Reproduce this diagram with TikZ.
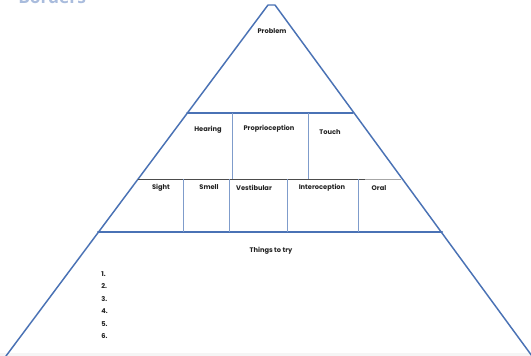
\documentclass[tikz,border=0pt]{standalone}
\usepackage{fontspec}
\setmainfont{Poppins}
\newfontfamily\titlefont{Open Sans}
\definecolor{edgeblue}{HTML}{4A72B5}
\definecolor{cellblue}{HTML}{7F9CCB}
\definecolor{titleblue}{HTML}{A9BCDD}
\definecolor{txt}{HTML}{222222}
\tikzset{
  edge/.style={draw=edgeblue, line width=1.1pt, line cap=round, line join=round},
  cell/.style={draw=cellblue, line width=0.7pt},
  midline/.style={draw=black!70, line width=0.7pt},
  lbl/.style={font=\fontsize{5}{6}\selectfont\bfseries, text=txt, inner sep=0pt},
  num/.style={font=\fontsize{5}{6}\selectfont\bfseries, text=txt, inner sep=0pt, anchor=west}
}
\begin{document}
\begin{tikzpicture}[x=0.75pt,y=-0.75pt]
\useasboundingbox (0,0) rectangle (531,356);
\clip (0,0) rectangle (531,356);
\fill[white] (0,0) rectangle (531,356);
\fill[black!4] (0,353) rectangle (531,356);
% cut-off title (clipped at the top edge, as in the reference)
\node[font=\titlefont\fontsize{13}{14}\selectfont\bfseries, text=titleblue, anchor=base west, inner sep=0pt] (title) at (18,4) {Borders};
% triangle
\coordinate (apexL) at (268,5);
\coordinate (apexR) at (275,5);
\coordinate (baseL) at (6,356);
\coordinate (baseR) at (532,356);
\draw[edge] (baseL) -- (apexL) -- (apexR) -- (baseR);
% horizontal bands
\coordinate (h1L) at (187,113);
\coordinate (h1R) at (353,113);
\coordinate (h2L) at (138,179);
\coordinate (h2M) at (365,179);
\coordinate (h2R) at (401,179);
\coordinate (h3L) at (98,232);
\coordinate (h3R) at (442,232);
\draw[edge] (h1L) -- (h1R);
\draw[midline] (h2L) -- (h2M);
\draw[draw=black!35, line width=0.7pt] (h2M) -- (h2R);
\draw[edge, line width=1.5pt] (h3L) -- (h3R);
% row 1 dividers
\coordinate (v1t) at (232,113); \coordinate (v1b) at (232,179);
\coordinate (v2t) at (308,113); \coordinate (v2b) at (308,179);
\draw[cell] (v1t) -- (v1b);
\draw[cell] (v2t) -- (v2b);
% row 2 dividers
\coordinate (w1t) at (183,179); \coordinate (w1b) at (183,232);
\coordinate (w2t) at (229,179); \coordinate (w2b) at (229,232);
\coordinate (w3t) at (287,179); \coordinate (w3b) at (287,232);
\coordinate (w4t) at (358,179); \coordinate (w4b) at (358,232);
\draw[cell] (w1t) -- (w1b);
\draw[cell] (w2t) -- (w2b);
\draw[cell] (w3t) -- (w3b);
\draw[cell] (w4t) -- (w4b);
% labels
\node[lbl] (problem) at (272,31) {Problem};
\node[lbl] (hearing) at (208,130) {Hearing};
\node[lbl] (proprio) at (269,129) {Proprioception};
\node[lbl] (touch) at (330,132) {Touch};
\node[lbl] (sight) at (161,188) {Sight};
\node[lbl] (smell) at (209,187) {Smell};
\node[lbl] (vestib) at (254,188) {Vestibular};
\node[lbl] (intero) at (322,188) {Interoception};
\node[lbl] (oral) at (379,188) {Oral};
\node[lbl] (things) at (271,251) {Things to try};
\node[num] (n1) at (101,274) {1.};
\node[num] (n2) at (101,286) {2.};
\node[num] (n3) at (101,299) {3.};
\node[num] (n4) at (101,311) {4.};
\node[num] (n5) at (101,324) {5.};
\node[num] (n6) at (101,336) {6.};
\end{tikzpicture}
\end{document}
